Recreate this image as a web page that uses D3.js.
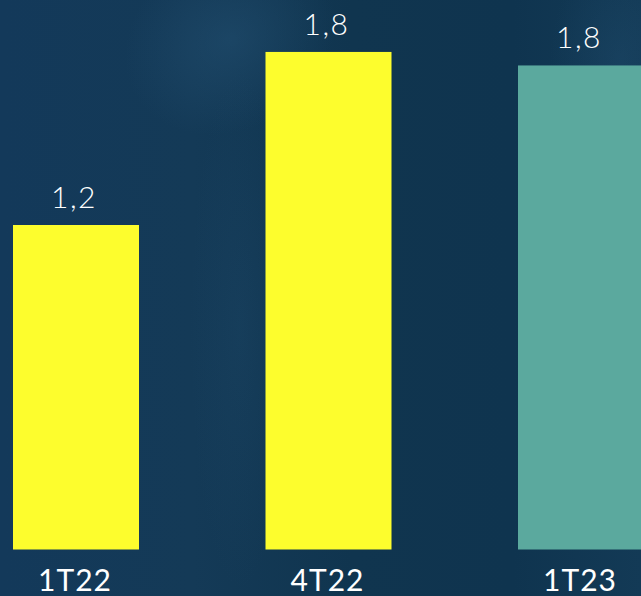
<!DOCTYPE html>
<html>
<head>
<meta charset="utf-8">
<script src="https://cdn.jsdelivr.net/npm/d3@7"></script>
<style>
  html, body { margin: 0; padding: 0; background: #12384f; overflow: hidden; }
  svg { display: block; }
</style>
</head>
<body>
<svg id="chart" width="641" height="596"></svg>
<script>
// ---- data ----
const categories = ["1T22", "4T22", "1T23"];
const values = [1.2, 1.84, 1.79];
const barColors = ["#fdfd2d", "#fdfd2d", "#5ba99e"];

const W = 641, H = 596;
const svg = d3.select("#chart");

// background with subtle texture
const defs = svg.append("defs");
const lg = defs.append("linearGradient").attr("id", "bg").attr("x1", 0).attr("y1", 0).attr("x2", 1).attr("y2", 0);
[[0, "#13395a"], [0.3, "#143a57"], [0.55, "#10354f"], [0.8, "#0f344f"], [1, "#133a56"]]
  .forEach(([o, c]) => lg.append("stop").attr("offset", o).attr("stop-color", c));
svg.append("rect").attr("width", W).attr("height", H).attr("fill", "url(#bg)");

const rg = defs.append("radialGradient").attr("id", "glow").attr("cx", 0.5).attr("cy", 0.5).attr("r", 0.5);
rg.append("stop").attr("offset", 0).attr("stop-color", "#28587c").attr("stop-opacity", 0.4);
rg.append("stop").attr("offset", 1).attr("stop-color", "#28587c").attr("stop-opacity", 0);
svg.append("ellipse").attr("cx", 230).attr("cy", 40).attr("rx", 110).attr("ry", 90).attr("fill", "url(#glow)")
  .attr("transform", "rotate(-30,230,40)");
svg.append("ellipse").attr("cx", 620).attr("cy", 60).attr("rx", 70).attr("ry", 110).attr("fill", "url(#glow)").attr("opacity", 0.6);
svg.append("ellipse").attr("cx", 240).attr("cy", 330).attr("rx", 50).attr("ry", 260).attr("fill", "url(#glow)").attr("opacity", 0.4);

// ---- scales ----
const x = d3.scaleBand().domain(categories).range([13, 644]).paddingInner(0.501).paddingOuter(0);
const y = d3.scaleLinear().domain([0, 1.2]).range([549.5, 225]);

const data = categories.map((c, i) => ({ c, v: values[i], col: barColors[i] }));
const fmt = v => d3.format(".1f")(v).replace(".", ",");

svg.selectAll("rect.bar").data(data).join("rect")
  .attr("class", "bar")
  .attr("x", d => x(d.c))
  .attr("width", x.bandwidth())
  .attr("y", d => y(d.v))
  .attr("height", d => y(0) - y(d.v))
  .attr("fill", d => d.col);

svg.selectAll("text.val").data(data).join("text")
  .attr("class", "val")
  .attr("x", d => x(d.c) + x.bandwidth() / 2 - 2)
  .attr("y", d => y(d.v) - 17)
  .attr("text-anchor", "middle")
  .attr("fill", "#ffffff")
  .style("font-family", "Lato, 'Open Sans', sans-serif")
  .style("font-weight", 300)
  .style("font-size", "30px")
  .style("letter-spacing", "1.5px")
  .text(d => fmt(d.v));

svg.selectAll("text.cat").data(data).join("text")
  .attr("class", "cat")
  .attr("x", d => x(d.c) + x.bandwidth() / 2 - 1)
  .attr("y", 590.5)
  .attr("text-anchor", "middle")
  .attr("fill", "#ffffff")
  .style("font-family", "Lato, 'Open Sans', sans-serif")
  .style("font-weight", 400)
  .style("font-size", "30px")
  .style("letter-spacing", "1px")
  .text(d => d.c);
</script>
</body>
</html>
